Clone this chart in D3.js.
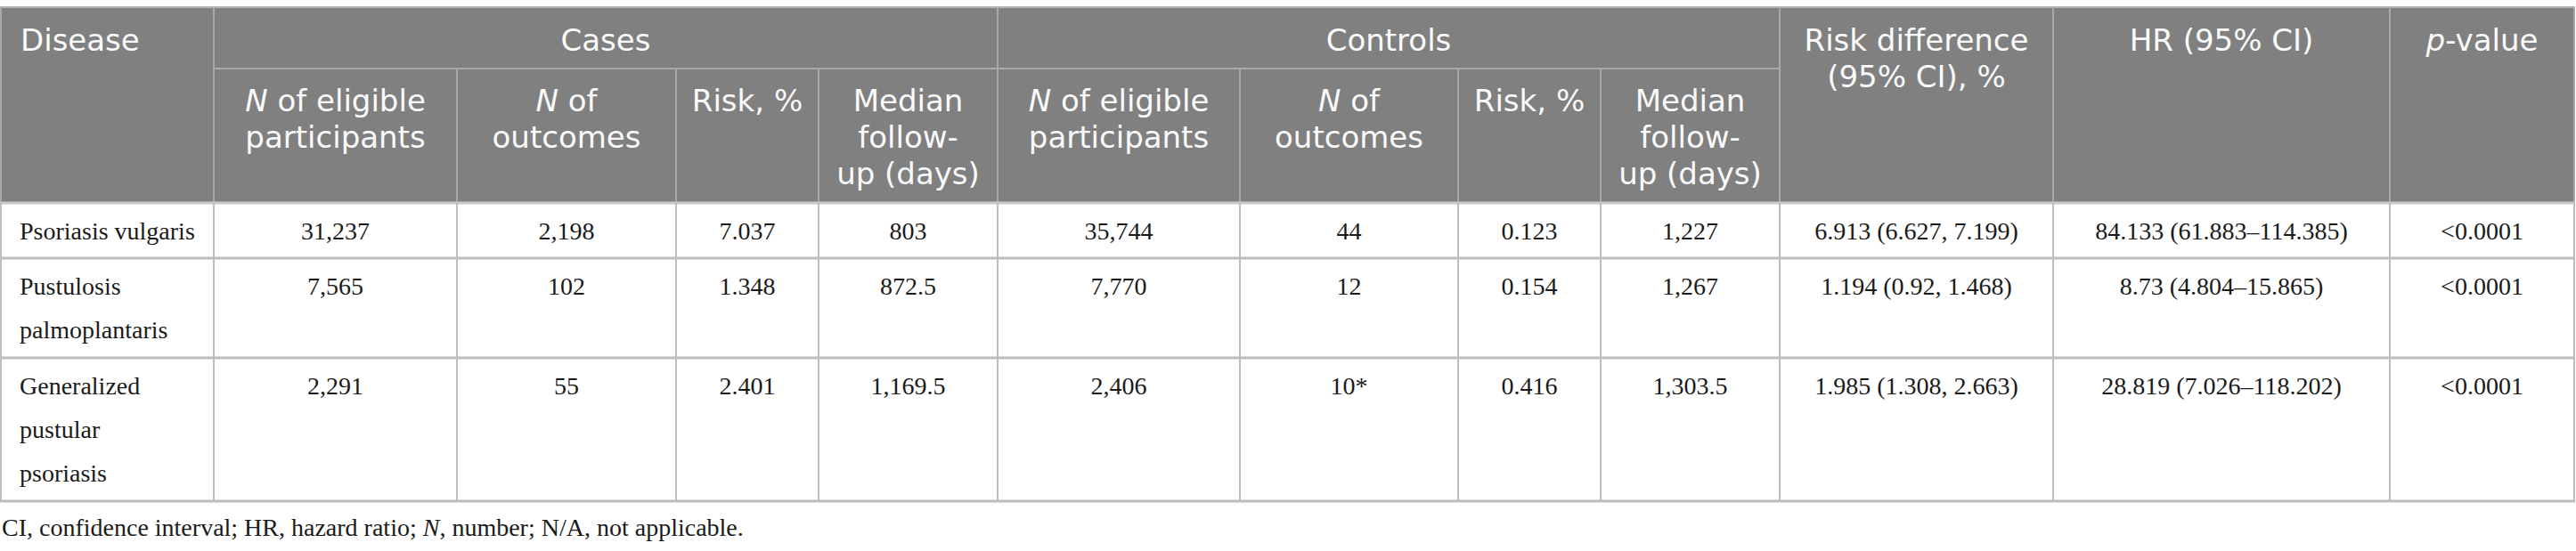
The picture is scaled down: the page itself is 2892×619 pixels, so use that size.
<!DOCTYPE html>
<html>
<head>
<meta charset="utf-8">
<script src="https://cdn.jsdelivr.net/npm/d3@7"></script>
<style>
html,body{margin:0;padding:0;background:#fff;}
svg{display:block;}
</style>
</head>
<body>
<div id="chart"></div>
<script>
// ---------- data ----------
// "_" marks italic segments, "|" marks line breaks
const groupHeaders = ["Disease", "Cases", "Controls", "Risk difference|(95% CI), %", "HR (95% CI)", "_p_-value"];
const subHeaders = [
  "_N_ of eligible|participants", "_N_ of|outcomes", "Risk, %", "Median|follow-|up (days)",
  "_N_ of eligible|participants", "_N_ of|outcomes", "Risk, %", "Median|follow-|up (days)"
];
const diseases = ["Psoriasis vulgaris", "Pustulosis|palmoplantaris", "Generalized|pustular|psoriasis"];
const casesEligible = ["31,237", "7,565", "2,291"];
const casesOutcomes = ["2,198", "102", "55"];
const casesRisk = ["7.037", "1.348", "2.401"];
const casesFollowUp = ["803", "872.5", "1,169.5"];
const controlsEligible = ["35,744", "7,770", "2,406"];
const controlsOutcomes = ["44", "12", "10*"];
const controlsRisk = ["0.123", "0.154", "0.416"];
const controlsFollowUp = ["1,227", "1,267", "1,303.5"];
const riskDifference = ["6.913 (6.627, 7.199)", "1.194 (0.92, 1.468)", "1.985 (1.308, 2.663)"];
const hazardRatio = ["84.133 (61.883\u2013114.385)", "8.73 (4.804\u201315.865)", "28.819 (7.026\u2013118.202)"];
const pValues = ["<0.0001", "<0.0001", "<0.0001"];
const footnote = "CI, confidence interval; HR, hazard ratio; _N_, number; N/A, not applicable.";

// ---------- layout ----------
const W = 2892, H = 619;
const colEdges = [1, 240, 513, 759, 919, 1120, 1392, 1637, 1797, 1998, 2305, 2683, 2890];
const yTop = 8, ySub = 77, yHead = 228;
const rowEdges = [228, 290, 402, 563];
const headFont = "'DejaVu Sans', 'Open Sans', sans-serif";
const bodyFont = "'Liberation Serif', 'DejaVu Serif', serif";
const headSize = 34, bodySize = 28, headLH = 41, bodyLH = 49;

const svg = d3.select("#chart").append("svg").attr("width", W).attr("height", H);

// x scale over column index
const xCol = d3.scaleOrdinal().domain(d3.range(colEdges.length)).range(colEdges);
const colCenter = i => (xCol(i) + xCol(i + 1)) / 2;

// header background
svg.append("rect").attr("x", 0).attr("y", yTop).attr("width", xCol(12)).attr("height", yHead - yTop).attr("fill", "#808080");

// helper: rich text with _italic_ segments
function addRich(sel, str) {
  const parts = str.split("_");
  parts.forEach((p, i) => {
    if (!p) return;
    sel.append("tspan").text(p).attr("font-style", i % 2 === 1 ? "italic" : "normal");
  });
}

// one text element per cell; each line is a tspan
function multiLine(g, str, x, y0, lh, anchor, font, size, color) {
  const t = g.append("text").attr("x", x).attr("y", y0)
    .attr("text-anchor", anchor).attr("font-family", font).attr("font-size", size)
    .attr("fill", color);
  str.split("|").forEach((line, k) => {
    const ln = t.append("tspan").attr("x", x).attr("y", y0 + k * lh);
    addRich(ln, line);
  });
  return t;
}

const hg = svg.append("g").attr("class", "header");
// group headers: column spans
const groupSpans = [[0, 1], [1, 5], [5, 9], [9, 10], [10, 11], [11, 12]];
groupHeaders.forEach((h, i) => {
  const [a, b] = groupSpans[i];
  const left = i === 0;
  const x = left ? xCol(a) + 22 : (xCol(a) + xCol(b)) / 2;
  multiLine(hg, h, x, 57, headLH, left ? "start" : "middle", headFont, headSize, "#fafafa");
});
subHeaders.forEach((h, i) => {
  multiLine(hg, h, colCenter(i + 1), 125, headLH, "middle", headFont, headSize, "#fafafa");
});

// header lines
const hl = svg.append("g").attr("stroke", "#a9a9a9").attr("stroke-width", 2);
hl.append("line").attr("x1", 0).attr("x2", xCol(12) + 1).attr("y1", yTop).attr("y2", yTop).attr("stroke", "#b4b4b4");
hl.append("line").attr("x1", xCol(1)).attr("x2", xCol(9)).attr("y1", ySub).attr("y2", ySub);
[1, 5, 9, 10, 11].forEach(i => hl.append("line").attr("x1", xCol(i)).attr("x2", xCol(i)).attr("y1", yTop).attr("y2", yHead));
[2, 3, 4, 6, 7, 8].forEach(i => hl.append("line").attr("x1", xCol(i)).attr("x2", xCol(i)).attr("y1", ySub).attr("y2", yHead));
[0, 12].forEach(i => hl.append("line").attr("x1", xCol(i)).attr("x2", xCol(i)).attr("y1", yTop).attr("y2", yHead));

// body
const columns = [diseases, casesEligible, casesOutcomes, casesRisk, casesFollowUp,
  controlsEligible, controlsOutcomes, controlsRisk, controlsFollowUp, riskDifference, hazardRatio, pValues];
const bg = svg.append("g").attr("class", "body");
diseases.forEach((d, r) => {
  const top = rowEdges[r];
  columns.forEach((col, c) => {
    const left = c === 0;
    const x = left ? xCol(0) + 21 : colCenter(c);
    multiLine(bg, col[r], x, top + 41, bodyLH, left ? "start" : "middle", bodyFont, bodySize, "#1a1a1a");
  });
});

// body lines
const bl = svg.append("g").attr("stroke", "#bcbcbc").attr("stroke-width", 2);
rowEdges.forEach((y, k) => {
  if (k === 0) return;
  bl.append("line").attr("x1", 0).attr("x2", xCol(12) + 1).attr("y1", y).attr("y2", y).attr("stroke-width", 3);
});
bl.append("line").attr("x1", 0).attr("x2", xCol(12) + 1).attr("y1", yHead).attr("y2", yHead).attr("stroke", "#c8c8c8").attr("stroke-width", 3);
colEdges.forEach((x, i) => {
  bl.append("line").attr("x1", x).attr("x2", x).attr("y1", yHead).attr("y2", rowEdges[3]);
});

// footnote
const ft = svg.append("text").attr("x", 2).attr("y", 602).attr("font-family", bodyFont)
  .attr("font-size", bodySize).attr("fill", "#1a1a1a");
addRich(ft, footnote);
</script>
</body>
</html>
